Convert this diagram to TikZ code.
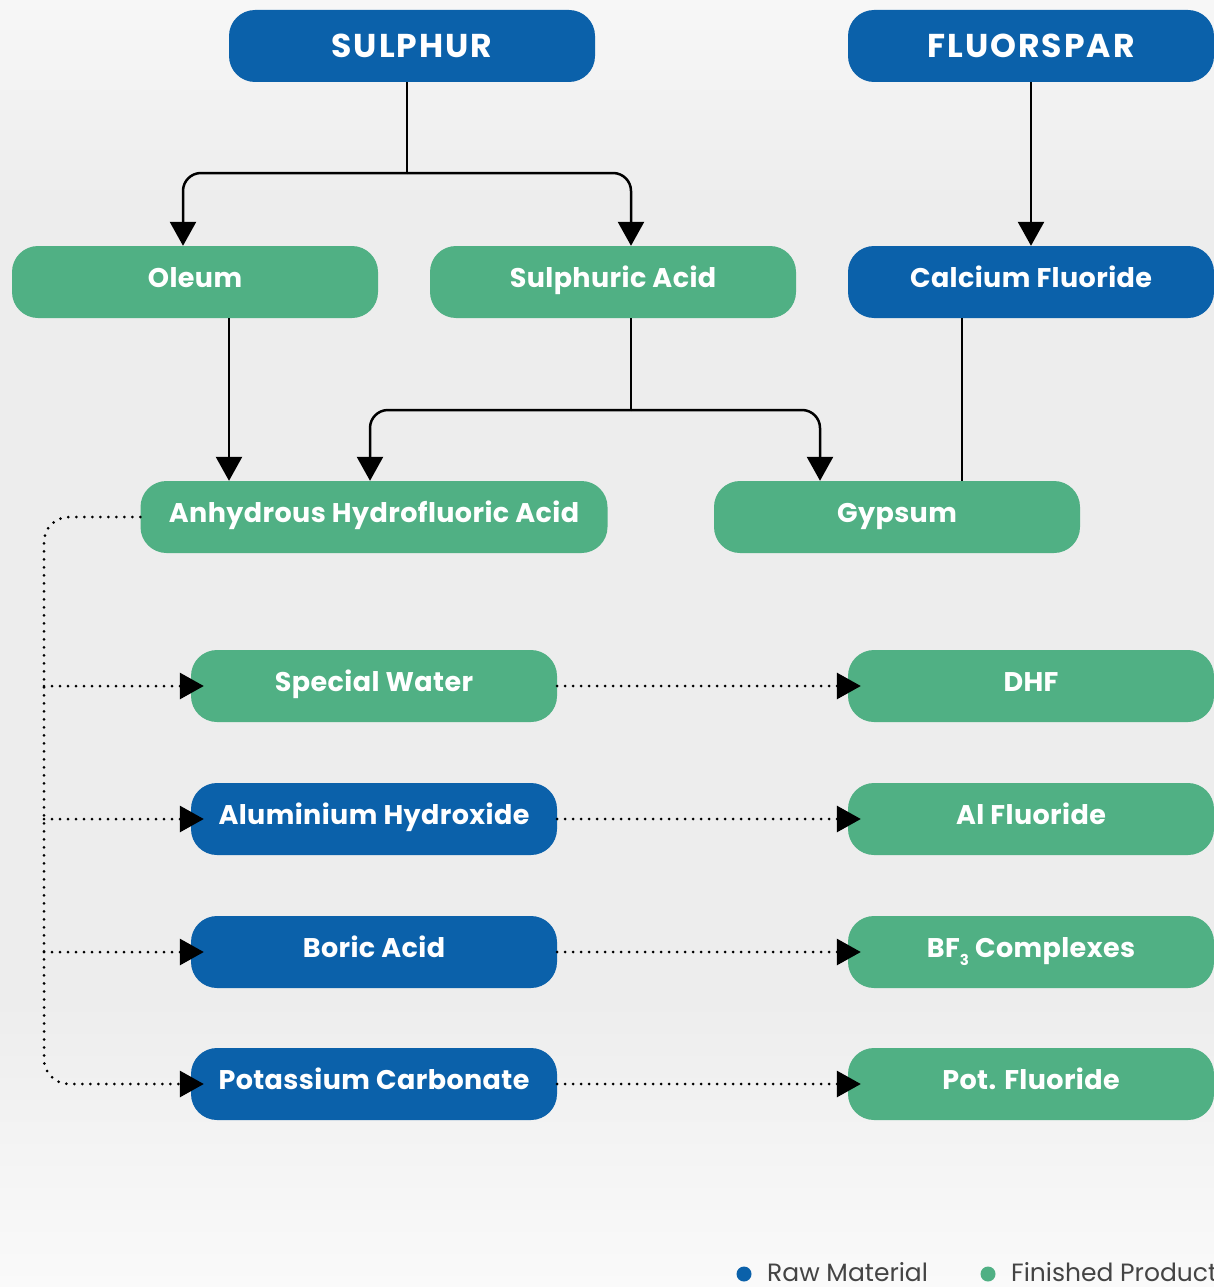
\documentclass[tikz,border=0pt]{standalone}
\usepackage{fontspec}
\setmainfont{Poppins}
\usetikzlibrary{arrows.meta}

\definecolor{rawblue}{HTML}{0B61AA}
\definecolor{prodgreen}{HTML}{50B084}
\definecolor{bgtop}{HTML}{F7F7F7}
\definecolor{bgmid}{HTML}{EDEDED}
\definecolor{bgbot}{HTML}{FAFAFA}
\definecolor{legendtext}{HTML}{444444}

\tikzset{
  box/.style={rounded corners=26pt, minimum width=366pt, minimum height=72pt,
    inner sep=0pt, text height=19pt, text depth=9pt, text=white,
    font=\fontsize{27}{30}\selectfont\bfseries\addfontfeature{LetterSpace=1.5}},
  raw/.style={box, fill=rawblue},
  product/.style={box, fill=prodgreen},
  source/.style={raw, text height=24pt, text depth=0pt,
    font=\fontsize{33}{36}\selectfont\bfseries\addfontfeature{LetterSpace=6}},
  line/.style={line width=2.5pt},
  arrow/.style={line, -{Triangle[length=24pt,width=26pt]}},
  dots/.style={line width=3pt, dash pattern=on 0pt off 8pt, line cap=round},
  dotarrow/.style={dots, -{Triangle[length=24pt,width=26pt]}, shorten >=-13pt},
  legend/.style={text=legendtext, font=\fontsize{25}{28}\selectfont, inner sep=0pt}
}

\begin{document}
\begin{tikzpicture}[x=1pt, y=-1pt]
	%%%%% BACKGROUND %%%%%
	\useasboundingbox (0,0) rectangle (1214,1287);
	\shade[top color=bgtop, bottom color=bgmid] (0,0) rectangle (1214,200);
	\fill[bgmid] (0,199) rectangle (1214,1001);
	\shade[top color=bgmid, bottom color=bgbot] (0,1000) rectangle (1214,1287);

	%%%%% NODES %%%%%
	\node[source] (sulphur) at (412,46) {SULPHUR};
	\node[source] (fluor) at (1031,46) {FLUORSPAR};

	\node[product] (oleum) at (195,282) {Oleum};
	\node[product] (sacid) at (613,282) {Sulphuric Acid};
	\node[raw] (caf) at (1031,282) {Calcium Fluoride};

	\node[product, minimum width=467pt] (ahf) at (374,517) {Anhydrous Hydrofluoric Acid};
	\node[product] (gypsum) at (897,517) {Gypsum};

	\node[product] (water) at (374,686) {Special Water};
	\node[product] (dhf) at (1031,686) {DHF};
	\node[raw] (alhyd) at (374,819) {Aluminium Hydroxide};
	\node[product] (alf) at (1031,819) {Al Fluoride};
	\node[raw] (boric) at (374,952) {Boric Acid};
	\node[product] (bf3) at (1031,952) {BF\raisebox{-.3em}{\fontsize{15}{15}\selectfont 3} Complexes};
	\node[raw] (potc) at (374,1084) {Potassium Carbonate};
	\node[product] (potf) at (1031,1084) {Pot. Fluoride};

	%%%%% CONNECTORS %%%%%
	\coordinate (jS) at (407,173);
	\coordinate (jA) at (631,410);
	\coordinate (jL) at (44,0);

	\draw[line] (sulphur.south -| jS) -- (jS);
	\draw[arrow, rounded corners=18pt] (jS) -| ([xshift=-12pt]oleum.north);
	\draw[arrow, rounded corners=18pt] (jS) -| ([xshift=18pt]sacid.north);
	\draw[arrow] (fluor) -- (caf);

	\draw[arrow] ([xshift=34pt]oleum.south) -- ([xshift=34pt]oleum.south |- ahf.north);
	\draw[line] (sacid.south -| jA) -- (jA);
	\draw[arrow, rounded corners=18pt] (jA) -| ([xshift=-4pt]ahf.north);
	\draw[arrow, rounded corners=18pt] (jA) -| ([xshift=-77pt]gypsum.north);
	\draw[line] ([xshift=-69pt]caf.south) -- ([xshift=-69pt]caf.south |- gypsum.north);

	\draw[dotarrow, rounded corners=25pt] (ahf.west) -| (jL |- potc.west) -- (potc.west);
	\foreach \n in {water, alhyd, boric}
		\draw[dotarrow] (jL |- \n.west) -- (\n.west);

	\draw[dotarrow] (water) -- (dhf);
	\draw[dotarrow] (alhyd) -- (alf);
	\draw[dotarrow] (boric) -- (bf3);
	\draw[dotarrow] (potc) -- (potf);

	%%%%% LEGEND %%%%%
	\fill[rawblue] (744,1274) circle (7.5pt);
	\node[legend, anchor=base west] (rawlbl) at (767,1281) {Raw Material};
	\fill[prodgreen] (988,1274) circle (7.5pt);
	\node[legend, anchor=base west] (prodlbl) at (1011,1281) {Finished Product};
\end{tikzpicture}
\end{document}
